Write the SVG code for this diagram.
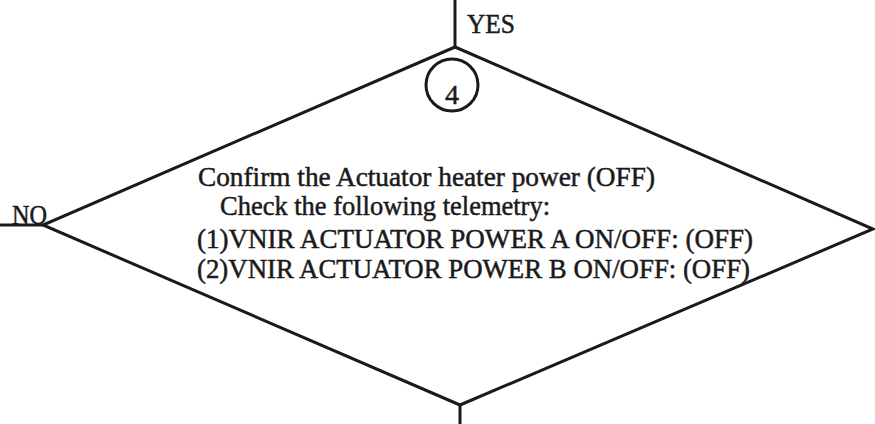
<svg xmlns="http://www.w3.org/2000/svg" width="875" height="424" viewBox="0 0 875 424">
<style>
.ln{stroke:#1a1a1a;stroke-width:3;fill:none;stroke-linecap:butt;stroke-linejoin:miter}
.t{font-family:"Liberation Serif","Times New Roman",serif;fill:#1a1a1a;stroke:#1a1a1a;stroke-width:0.5;font-size:28px}
</style>
<rect width="875" height="424" fill="#fff"/>
<g id="connectors">
<line class="ln" x1="455" y1="0" x2="455" y2="47"/>
<line class="ln" x1="0" y1="225" x2="43" y2="225"/>
<line class="ln" x1="460" y1="405" x2="460" y2="424"/>
<text class="t" x="467" y="33" font-size="25" textLength="48" lengthAdjust="spacingAndGlyphs">YES</text>
<text class="t" x="12" y="224" font-size="23" textLength="35" lengthAdjust="spacingAndGlyphs">NO</text>
</g>
<g id="decision4">
<polygon class="ln" points="455,47 873,229 460,405 43,225"/>
<circle class="ln" cx="452" cy="85" r="26" stroke-width="2.5"/>
<text class="t" x="452" y="104" text-anchor="middle" font-size="26">4</text>
<text class="t" x="198" y="186" textLength="457" lengthAdjust="spacingAndGlyphs">Confirm the Actuator heater power (OFF)</text>
<text class="t" x="220" y="215" textLength="330" lengthAdjust="spacingAndGlyphs">Check the following telemetry:</text>
<text class="t" x="197" y="248" textLength="556" lengthAdjust="spacingAndGlyphs">(1)VNIR ACTUATOR POWER A ON/OFF: (OFF)</text>
<text class="t" x="197" y="278" textLength="553" lengthAdjust="spacingAndGlyphs">(2)VNIR ACTUATOR POWER B ON/OFF: (OFF)</text>
</g>
</svg>
